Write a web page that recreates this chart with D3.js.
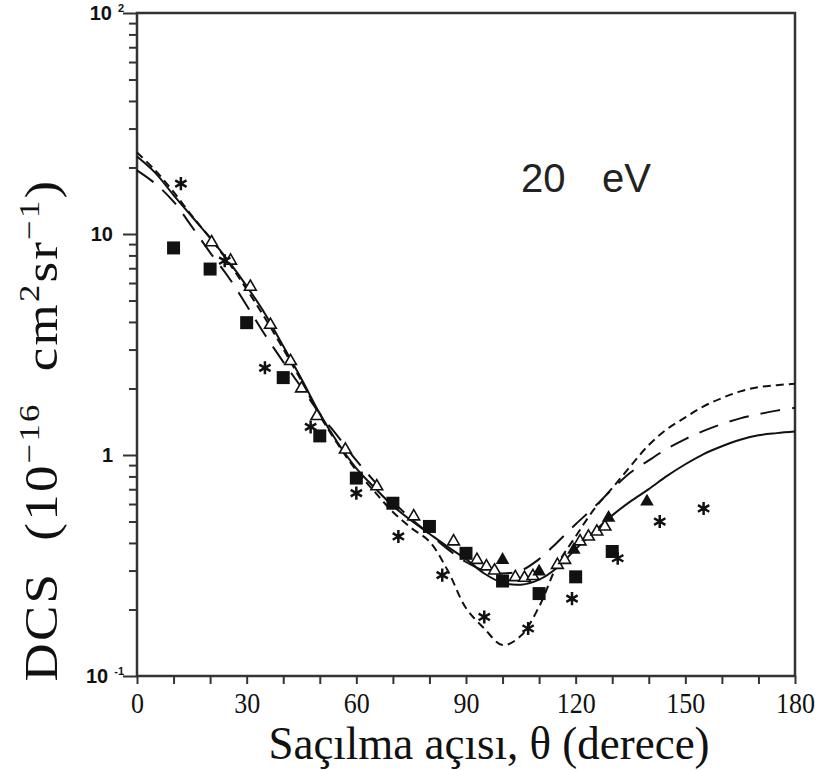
<!DOCTYPE html>
<html>
<head>
<meta charset="utf-8">
<style>
  body { margin: 0; background: #fff; }
  svg { display: block; }
</style>
</head>
<body>
  <div id="chart"></div>
  <script src="https://d3js.org/d3.v7.min.js"></script>
  <script>
    // theory curves, sampled every 5 degrees
    var angles = [0,5,10,15,20,25,30,35,40,45,50,55,60,65,70,75,80,85,90,95,100,105,110,115,120,125,130,135,140,145,150,155,160,165,170,175,180];
    var solidDCS = [22.4,18.9,15.0,12.0,9.6,7.55,5.81,4.36,3.11,2.21,1.54,1.13,0.87,0.711,0.589,0.505,0.44,0.384,0.338,0.291,0.264,0.259,0.273,0.31,0.375,0.449,0.533,0.617,0.701,0.804,0.908,1.01,1.096,1.172,1.229,1.256,1.276];
    var longDashDCS = [19.4,16.9,14.0,10.8,8.24,6.39,4.75,3.5,2.64,2.02,1.54,1.21,0.945,0.758,0.617,0.514,0.44,0.375,0.328,0.30,0.291,0.30,0.338,0.403,0.486,0.58,0.70,0.833,0.945,1.068,1.181,1.285,1.38,1.465,1.53,1.588,1.635];
    var shortDashDCS = [23.4,19.4,15.5,12.1,9.6,7.46,5.62,4.17,3.02,2.16,1.51,1.115,0.851,0.682,0.552,0.468,0.406,0.30,0.203,0.164,0.138,0.152,0.206,0.319,0.428,0.567,0.708,0.89,1.11,1.31,1.48,1.66,1.81,1.94,2.03,2.07,2.1];

    // measurements
    var squareAngles = [10,20,30,40,50,60,70,80,90,100,110,120,130];
    var squareDCS = [8.65,6.94,3.97,2.24,1.22,0.786,0.605,0.475,0.359,0.269,0.236,0.281,0.366];
    var starAngles = [12,24,35,47.5,60,71.5,83.5,95,107,119,131.5,143,155];
    var starDCS = [16.9,7.57,2.48,1.34,0.672,0.428,0.286,0.185,0.164,0.224,0.341,0.50,0.573];
    var openTriAngles = [20.4,25.6,31,36.5,42,45,49.2,57,65.6,75.7,86.6,93,95.6,97.8,103.5,106,108.3,115,117,121.2,123.5,125.8,128];
    var openTriDCS = [9.17,7.57,5.77,3.88,2.66,2.0,1.5,1.058,0.721,0.527,0.406,0.335,0.313,0.30,0.28,0.278,0.283,0.318,0.335,0.406,0.427,0.45,0.474];
    var filledTriAngles = [100,110,119.5,129,139.5];
    var filledTriDCS = [0.335,0.297,0.372,0.52,0.616];

    var xTicks = [0,10,20,30,40,50,60,70,80,90,100,110,120,130,140,150,160,170,180];
    var xTickLabels = ['0','','','30','','','60','','','90','','','120','','','150','','','180'];
    var yMajorTicks = [0.1,1,10,100];

    var width = 818, height = 770;
    var plotLeft = 137, plotRight = 795, plotTop = 13, plotBottom = 676;

    var svg = d3.select('#chart').append('svg')
      .attr('width', width)
      .attr('height', height);

    var x = d3.scaleLinear().domain([0,180]).range([plotLeft,plotRight]);
    var y = d3.scaleLog().domain([0.1,100]).range([plotBottom,plotTop]);

    // minor y ticks 2..9 in every decade
    var yMinorTicks = [];
    [0.1,1,10].forEach(function(d){
      for (var k = 2; k <= 9; k++) yMinorTicks.push(d*k);
    });

    var axisColor = '#333';

    // x axis
    var xAxis = svg.append('g')
      .attr('transform','translate(0,' + plotBottom + ')')
      .call(d3.axisBottom(x)
        .tickValues(xTicks)
        .tickSize(8)
        .tickSizeOuter(0)
        .tickPadding(6)
        .tickFormat(function(d,i){ return xTickLabels[i]; }));
    xAxis.select('.domain').remove();
    xAxis.selectAll('line').attr('stroke',axisColor).attr('stroke-width',2);
    xAxis.selectAll('text')
      .attr('font-family','"Liberation Serif", serif')
      .attr('font-size',26)
      .attr('transform','scale(1,1.15)')
      .attr('fill','#111');

    // y axis minor
    var yMinor = svg.append('g')
      .attr('transform','translate(' + plotLeft + ',0)')
      .call(d3.axisLeft(y).tickValues(yMinorTicks).tickSize(8).tickSizeOuter(0).tickFormat(''));
    yMinor.select('.domain').remove();
    yMinor.selectAll('line').attr('stroke',axisColor).attr('stroke-width',2);

    // y axis major
    var yMajor = svg.append('g')
      .attr('transform','translate(' + plotLeft + ',0)')
      .call(d3.axisLeft(y).tickValues(yMajorTicks).tickSize(14).tickSizeOuter(0).tickPadding(10).tickFormat(''));
    yMajor.select('.domain').remove();
    yMajor.selectAll('line').attr('stroke',axisColor).attr('stroke-width',2);
    yMajor.selectAll('.tick').each(function(d){
      var t = d3.select(this).select('text')
        .attr('font-family','"Liberation Sans", Arial, sans-serif')
        .attr('font-weight','bold')
        .attr('font-size',20)
        .attr('fill','#111');
      if (d === 10) t.text('10');
      else if (d === 1) t.text('1');
      else {
        t.attr('x',-13);
        t.append('tspan').text('10');
        t.append('tspan').attr('dx',6).attr('dy',-8).attr('font-size',11).text(d === 100 ? '2' : '-1');
      }
    });

    // frame
    svg.append('rect')
      .attr('x',plotLeft).attr('y',plotTop)
      .attr('width',plotRight-plotLeft).attr('height',plotBottom-plotTop)
      .attr('fill','none')
      .attr('stroke',axisColor)
      .attr('stroke-width',2.5);

    // curves
    var line = d3.line()
      .x(function(d){ return x(d[0]); })
      .y(function(d){ return y(d[1]); })
      .curve(d3.curveCatmullRom);

    function drawCurve(values, dash){
      svg.append('path')
        .datum(angles.map(function(a,i){ return [a, values[i]]; }))
        .attr('d', line)
        .attr('fill','none')
        .attr('stroke','#111')
        .attr('stroke-width',2)
        .attr('stroke-dasharray', dash);
    }
    drawCurve(solidDCS, null);
    drawCurve(longDashDCS, '20,12');
    drawCurve(shortDashDCS, '8,5');

    // markers
    function drawMarkers(xs, ys, type, size, fill, stroke, sw){
      svg.append('g').selectAll('path')
        .data(xs.map(function(a,i){ return [a, ys[i]]; }))
        .enter()
        .append('path')
        .attr('transform', function(d){ return 'translate(' + x(d[0]) + ',' + y(d[1]) + ')'; })
        .attr('d', d3.symbol().type(type).size(size))
        .attr('fill', fill)
        .attr('stroke', stroke)
        .attr('stroke-width', sw);
    }
    drawMarkers(openTriAngles, openTriDCS, d3.symbolTriangle, 60, '#fff', '#111', 1.6);
    drawMarkers(squareAngles, squareDCS, d3.symbolSquare, 169, '#111', 'none', 0);
    drawMarkers(filledTriAngles, filledTriDCS, d3.symbolTriangle, 80, '#111', 'none', 0);
    drawMarkers(starAngles, starDCS, d3.symbolAsterisk, 120, 'none', '#111', 2.5);

    // energy label
    svg.append('text')
      .attr('x',521).attr('y',192)
      .attr('font-family','"Liberation Sans", Arial, sans-serif')
      .attr('font-size',40)
      .attr('fill','#222')
      .text('20');
    svg.append('text')
      .attr('x',602).attr('y',192)
      .attr('font-family','"Liberation Sans", Arial, sans-serif')
      .attr('font-size',40)
      .attr('fill','#222')
      .text('eV');

    // axis titles
    svg.append('text')
      .attr('transform','translate(489,759) scale(1,1.05)')
      .attr('text-anchor','middle')
      .attr('font-family','"Liberation Serif", serif')
      .attr('font-size',45)
      .attr('fill','#111')
      .text('Saçılma açısı, θ (derece)');

    var yTitle = svg.append('text')
      .attr('transform','translate(57,430) scale(1,1.15) rotate(-90)')
      .attr('text-anchor','middle')
      .attr('font-family','"Liberation Serif", serif')
      .attr('font-size',46)
      .attr('letter-spacing',2)
      .attr('fill','#111')
      .style('white-space','pre');
    yTitle.append('tspan').text('DCS  (10');
    yTitle.append('tspan').attr('font-size',30).attr('dy',-18).text('−16');
    yTitle.append('tspan').attr('dy',18).text('  cm');
    yTitle.append('tspan').attr('font-size',30).attr('dy',-18).text('2');
    yTitle.append('tspan').attr('dy',18).text('sr');
    yTitle.append('tspan').attr('font-size',30).attr('dy',-18).text('−1');
    yTitle.append('tspan').attr('dy',18).text(')');
  </script>
</body>
</html>
